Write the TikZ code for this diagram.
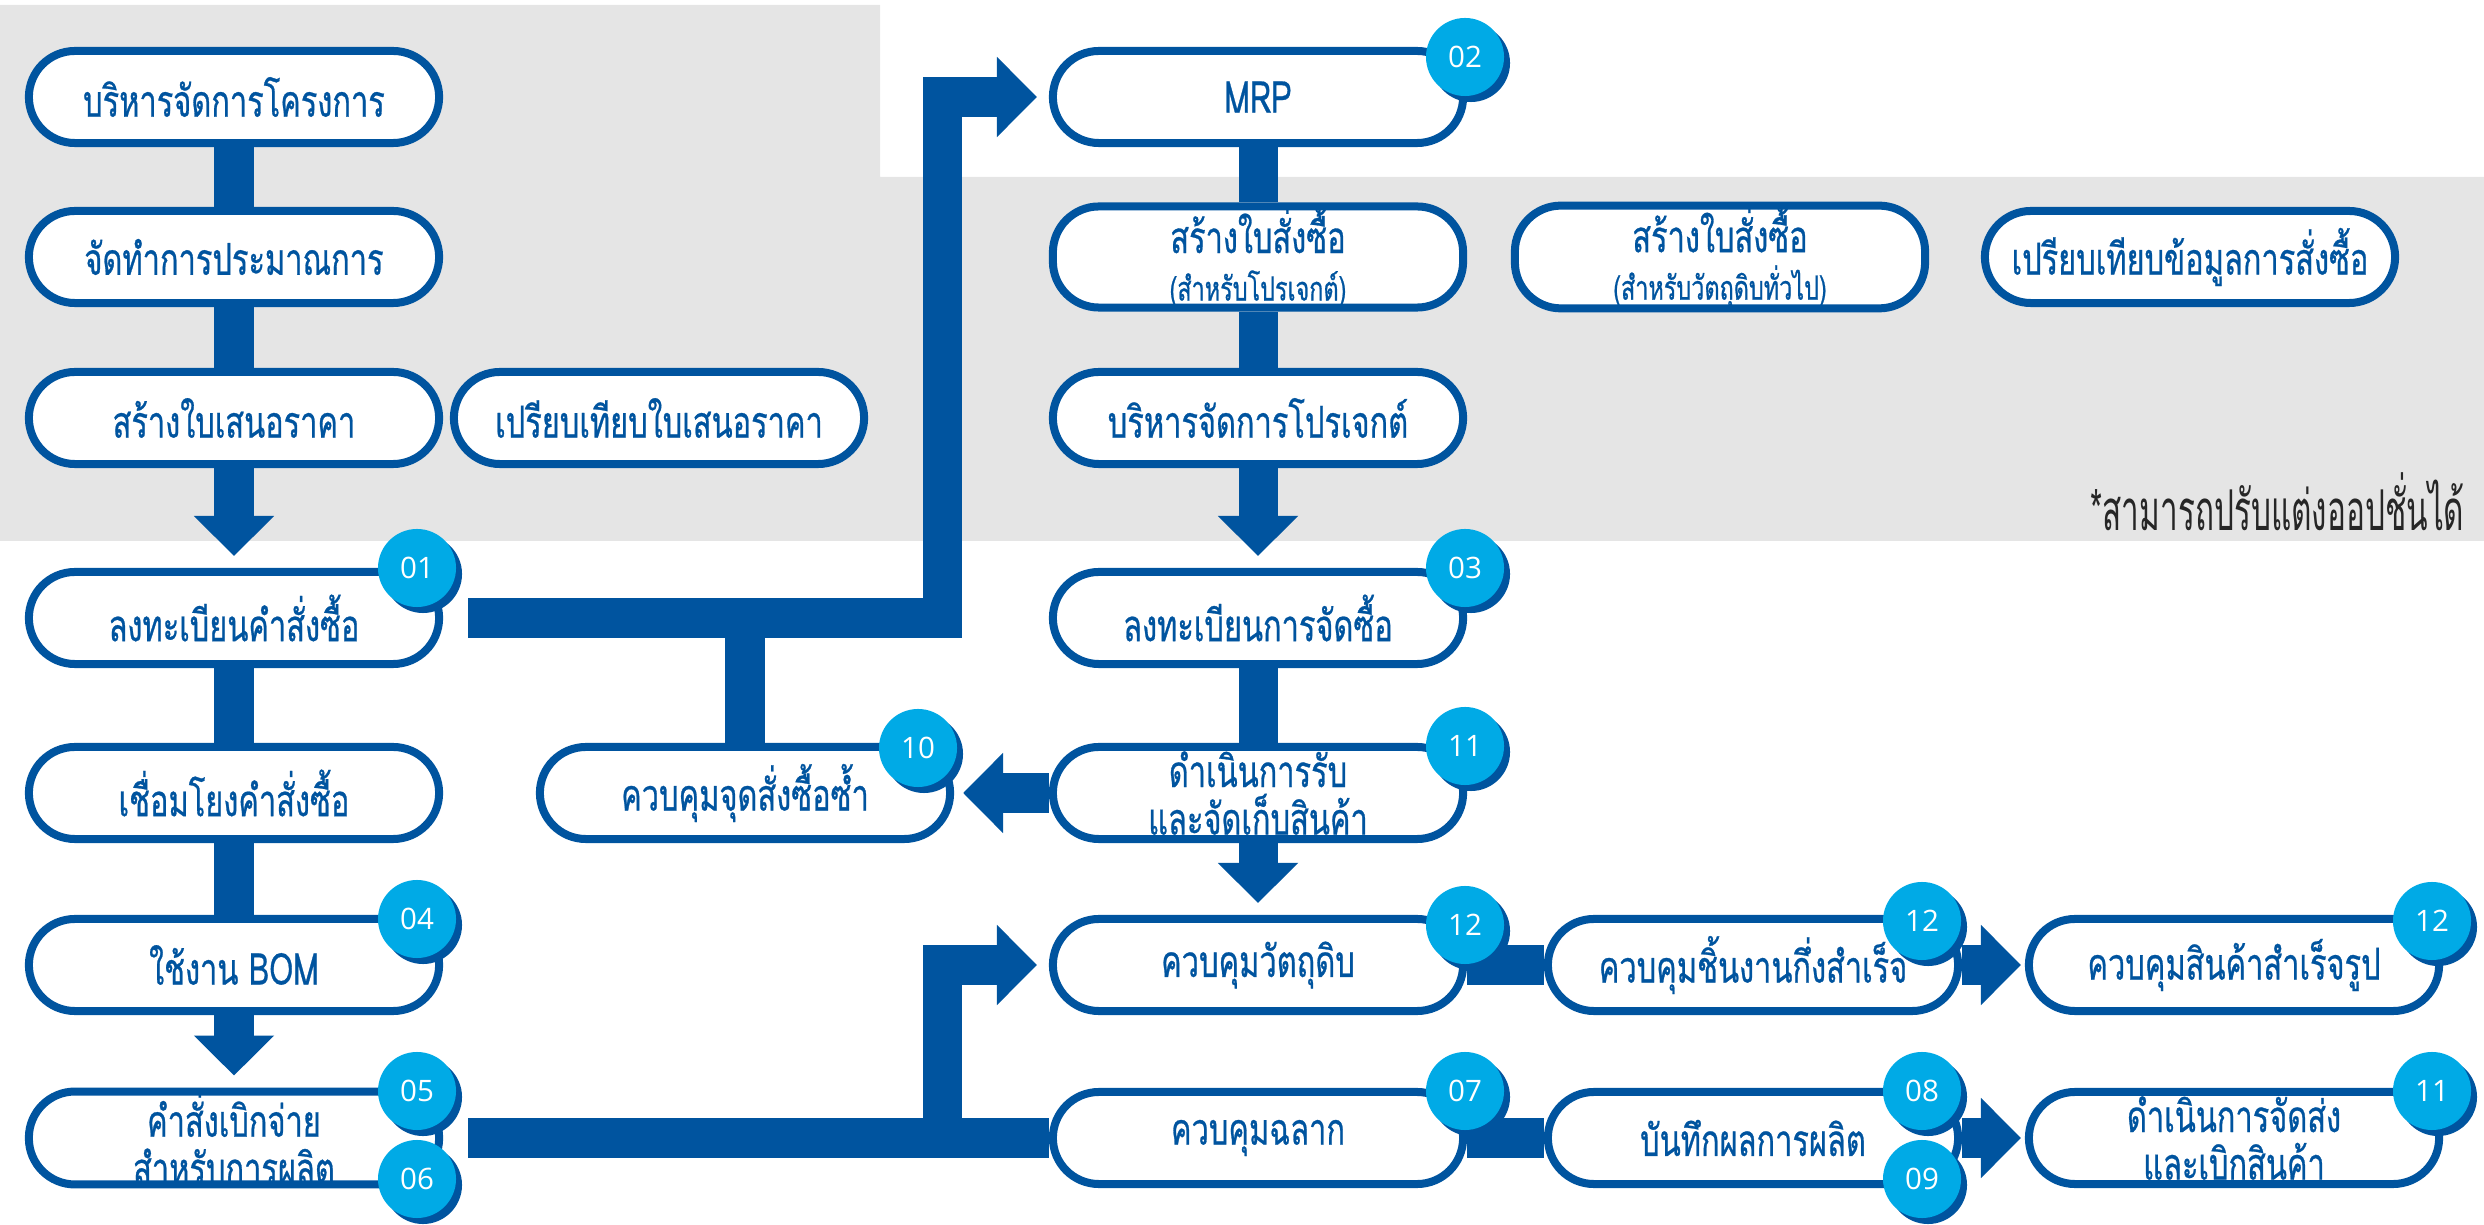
\documentclass[tikz,border=0pt]{standalone}
\usepackage{fontspec}
\usetikzlibrary{arrows.meta,shadows,calc}
\newfontfamily\thai[Script=Thai,FakeStretch=0.7,FakeBold=0.6]{Loma}
\newfontfamily\thainote[Script=Thai,FakeStretch=0.56]{Loma}
\newfontfamily\numf{Open Sans}
\definecolor{mblue}{RGB}{0,84,159}
\definecolor{bblue}{RGB}{0,170,230}
\definecolor{bggray}{RGB}{229,229,229}
\pgfdeclarelayer{bg}
\pgfdeclarelayer{conn}
\pgfsetlayers{bg,conn,main}
\begin{document}
\begin{tikzpicture}[x=0.01cm,y=-0.01cm,
  box/.style={draw=mblue,line width=0.08cm,fill=white,rounded corners=0.46cm,
    minimum width=4.1cm,minimum height=0.92cm,align=center,text=mblue,inner sep=0pt,
    font=\thai\fontsize{12.5}{13.5}\selectfont},
  badge/.style={circle,fill=bblue,minimum size=0.78cm,inner sep=0pt,text=white,
    font=\numf\fontsize{8.4}{9}\selectfont,
    drop shadow={shadow xshift=0.06cm,shadow yshift=-0.06cm,fill=mblue,opacity=1}},
  bar/.style={draw=mblue,line width=0.39cm},
  arr/.style={bar,-{Triangle[length=0.4cm,width=0.78cm]}}
]
\useasboundingbox (0,0) rectangle (2484,1225);
\begin{pgfonlayer}{bg}
\fill[bggray] (0,5) -- (880,5) -- (880,177) -- (2484,177) -- (2484,541) -- (0,541) -- cycle;
\end{pgfonlayer}

% left column
\node[box] (A1) at (234,97) {บริหารจัดการโครงการ};
\node[box] (A2) at (234,257) {จัดทำการประมาณการ};
\node[box] (A3) at (234,418) {สร้างใบเสนอราคา};
\node[box] (B3) at (659,418) {เปรียบเทียบใบเสนอราคา};
\node[box] (A4) at (234,618) {ลงทะเบียนคำสั่งซื้อ};
\node[box] (A5) at (234,793) {เชื่อมโยงคำสั่งซื้อ};
\node[box] (A6) at (234,965) {ใช้งาน BOM};
\node[box] (A7) at (234,1138) {คำสั่งเบิกจ่าย\\สำหรับการผลิต};
\node[box] (B5) at (745,793) {ควบคุมจุดสั่งซื้อซ้ำ};
% middle column
\node[box] (C1) at (1258,97) {MRP};
\node[box] (C2) at (1258,257) {สร้างใบสั่งซื้อ\\{\fontsize{9.5}{11}\selectfont (สำหรับโปรเจกต์)}};
\node[box] (D2) at (1720,257) {สร้างใบสั่งซื้อ\\{\fontsize{9.5}{11}\selectfont (สำหรับวัตถุดิบทั่วไป)}};
\node[box] (E2) at (2190,257) {เปรียบเทียบข้อมูลการสั่งซื้อ};
\node[box] (C3) at (1258,418) {บริหารจัดการโปรเจกต์};
\node[box] (C4) at (1258,618) {ลงทะเบียนการจัดซื้อ};
\node[box] (C5) at (1258,793) {ดำเนินการรับ\\และจัดเก็บสินค้า};
\node[box] (C6) at (1258,965) {ควบคุมวัตถุดิบ};
\node[box] (D6) at (1753,965) {ควบคุมชิ้นงานกึ่งสำเร็จ};
\node[box] (E6) at (2234,965) {ควบคุมสินค้าสำเร็จรูป};
\node[box] (C7) at (1258,1138) {ควบคุมฉลาก};
\node[box] (D7) at (1753,1138) {บันทึกผลการผลิต};
\node[box] (E7) at (2234,1138) {ดำเนินการจัดส่ง\\และเบิกสินค้า};

\node[anchor=base east,text=black!85,font=\thainote\fontsize{16}{17}\selectfont,inner sep=0pt] (note) at (2465,531) {*สามารถปรับแต่งออปชั่นได้};

% badges
\node[badge] (b01) at ($(A4.center)+(183,-50)$) {01};
\node[badge] (b04) at ($(A6.center)+(183,-46)$) {04};
\node[badge] (b05) at ($(A7.center)+(183,-47)$) {05};
\node[badge] (b06) at ($(A7.center)+(183,41)$) {06};
\node[badge] (b10) at ($(B5.center)+(173,-45)$) {10};
\node[badge] (b02) at ($(C1.center)+(207,-40)$) {02};
\node[badge] (b03) at ($(C4.center)+(207,-50)$) {03};
\node[badge] (b11) at ($(C5.center)+(207,-47)$) {11};
\node[badge] (b12a) at ($(C6.center)+(207,-40)$) {12};
\node[badge] (b12b) at ($(D6.center)+(169,-44)$) {12};
\node[badge] (b12c) at ($(E6.center)+(198,-44)$) {12};
\node[badge] (b07) at ($(C7.center)+(207,-47)$) {07};
\node[badge] (b08) at ($(D7.center)+(169,-47)$) {08};
\node[badge] (b09) at ($(D7.center)+(169,41)$) {09};
\node[badge] (b11b) at ($(E7.center)+(198,-47)$) {11};

% connectors
\begin{pgfonlayer}{conn}
\draw[bar] (A1.south) -- (A2.north);
\draw[bar] (A2.south) -- (A3.north);
\draw[arr] (A3.south) -- ([yshift=0.12cm]A4.north);
\draw[bar] (A4.south) -- (A5.north);
\draw[bar] (A5.south) -- (A6.north);
\draw[arr] (A6.south) -- ([yshift=0.12cm]A7.north);
\draw[arr] ([xshift=0.25cm]A4.east) -| ([xshift=-1.06cm]C1.west) -- ([xshift=-0.12cm]C1.west);
\draw[bar] (B5.north) -- (B5.north |- A4.east);
\draw[bar] (C1.south) -- (C2.north);
\draw[bar] (C2.south) -- (C3.north);
\draw[arr] (C3.south) -- ([yshift=0.12cm]C4.north);
\draw[bar] (C4.south) -- (C5.north);
\draw[arr] (C5.west) -- ([xshift=0.09cm]B5.east);
\draw[arr] (C5.south) -- ([yshift=0.12cm]C6.north);
\draw[bar] (C6.east) -- (D6.west);
\draw[arr] (D6.east) -- ([xshift=-0.04cm]E6.west);
\draw[bar] ([xshift=0.25cm]A7.east) -- (C7.west);
\draw[arr] ([xshift=-1.06cm,yshift=-0.195cm]C7.west) |- ([xshift=-0.12cm]C6.west);
\draw[bar] (C7.east) -- (D7.west);
\draw[arr] (D7.east) -- ([xshift=-0.04cm]E7.west);
\end{pgfonlayer}
\end{tikzpicture}
\end{document}
